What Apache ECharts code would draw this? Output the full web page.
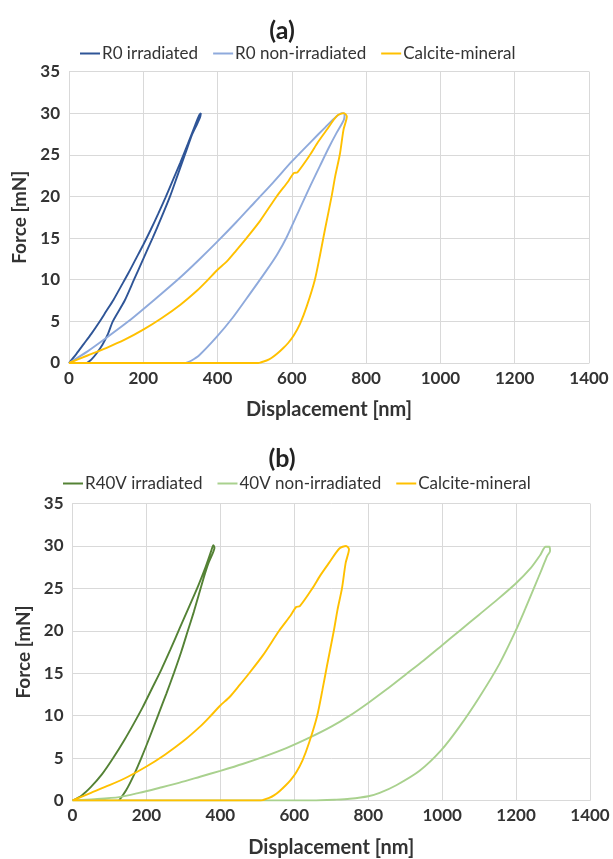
<!DOCTYPE html>
<html>
<head>
<meta charset="utf-8">
<script src="https://cdn.jsdelivr.net/npm/echarts@6/dist/echarts.min.js"></script>
<style>
html,body{margin:0;padding:0;background:#fff;}
#chart{width:613px;height:859px;}
</style>
</head>
<body>
<div id="chart"></div>
<script>
// ---- data: [displacement nm, force mN] ----
const r0Irradiated = [
  [0,0],[20,1.1],[40,2.3],[60,3.5],[80,4.8],[100,6.2],[120,7.6],[140,9.2],[160,10.8],[180,12.5],[200,14.2],[220,16.0],[240,17.9],[260,19.9],[280,22.0],[300,24.1],[320,26.3],[340,28.6],[350,29.7],[355,30],
  [353,29.5],[344,28.6],[332,27.5],[312,25],[292,22.5],[272,20],[250,17.6],[225,15],[200,12.5],[175,10],[150,7.5],[118,5],[105,3.5],[90,2.2],[75,1.2],[60,0.4],[48,0]
];
const r0NonIrradiated = [
  [0,0],[50,1.4],[100,3.0],[160,5.0],[230,7.6],[300,10.3],[350,12.4],[400,14.6],[450,16.9],[500,19.3],[550,21.7],[600,24.2],[650,26.5],[690,28.3],[715,29.4],[735,30],[742,29.9],
  [740,29.2],[720,27.6],[700,25.9],[676,23.7],[650,21.3],[622,18.6],[586,15.1],[560,13.0],[530,11.0],[487,8.3],[440,5.4],[397,3.1],[350,0.9],[330,0.3],[315,0]
];
const calciteMineral = [
  [0,0],[50,0.9],[100,1.8],[150,2.8],[200,4.0],[250,5.4],[300,7.0],[345,8.7],[370,9.8],[400,11.2],[425,12.2],[450,13.5],[478,15],[515,17.1],[559,20],[590,21.8],[605,22.8],[615,22.9],[649,25],[670,26.5],[694,28],[722,29.7],[740,30],
  [748,29.6],[739,28],[729,25],[717,22.5],[707,20],[689,16],[676,13],[662,10],[640,6.8],[622,4.7],[605,3.3],[590,2.4],[577,1.8],[560,1.1],[545,0.6],[532,0.3],[515,0.05],[510,0],[0,0]
];
const r40vIrradiated = [
  [0,0],[25,0.6],[50,1.6],[80,3.1],[110,5.0],[140,7.1],[165,9.0],[190,11.0],[215,13.2],[240,15.4],[265,17.8],[290,20.3],[315,22.8],[340,25.3],[360,27.5],[376,29.5],[381,30.1],
  [384,29.8],[378,29.0],[368,28.0],[356,26.4],[342,24.3],[328,22.2],[312,20],[294,17.5],[275,15.1],[254,12.6],[232,10.1],[210,7.6],[188,5.2],[165,2.9],[145,1.2],[126,0]
];
const v40NonIrradiated = [
  [0,0],[60,0.15],[126,0.4],[180,0.9],[236,1.5],[290,2.1],[345,2.8],[400,3.5],[460,4.3],[520,5.2],[580,6.2],[641,7.4],[700,8.7],[750,10.0],[800,11.5],[850,13.1],[900,14.8],[950,16.5],[1000,18.3],[1050,20.1],[1100,21.9],[1150,23.7],[1200,25.6],[1240,27.4],[1265,28.9],[1280,29.9],[1290,29.9],
  [1292,29.4],[1284,28.8],[1270,27.3],[1250,25.2],[1225,22.6],[1200,20.1],[1155,16.1],[1101,12.2],[1047,8.7],[997,5.9],[939,3.5],[876,1.8],[831,0.9],[800,0.5],[750,0.2],[714,0.1],[650,0],[0,0]
];
const legendA = ['R0 irradiated','R0 non-irradiated','Calcite-mineral'];
const legendB = ['R40V irradiated','40V non-irradiated','Calcite-mineral'];

const FONT = 'Lato';
const TXT = '#333333';
const GRIDC = '#d9d9d9';

function xAx(idx){
  return {
    type:'value', gridIndex:idx, min:0, max:1400, interval:200,
    name:'Displacement [nm]', nameLocation:'middle', nameGap:37,
    nameTextStyle:{fontFamily:FONT,fontWeight:'bold',fontSize:20,color:TXT},
    axisLine:{show:true,lineStyle:{color:GRIDC,width:1}},
    axisTick:{show:false},
    axisLabel:{fontFamily:FONT,fontWeight:'bold',fontSize:17,color:TXT,margin:7,formatter:function(v){return String(v);}},
    splitLine:{show:true,lineStyle:{color:GRIDC,width:1}}
  };
}
function yAx(idx,gap){
  return {
    type:'value', gridIndex:idx, min:0, max:35, interval:5,
    name:'Force [mN]', nameLocation:'middle', nameGap:gap,
    nameTextStyle:{fontFamily:FONT,fontWeight:'bold',fontSize:19,color:TXT},
    axisLine:{show:true,lineStyle:{color:GRIDC,width:1}},
    axisTick:{show:false},
    axisLabel:{fontFamily:FONT,fontWeight:'bold',fontSize:17,color:TXT,margin:9},
    splitLine:{show:true,lineStyle:{color:GRIDC,width:1}}
  };
}
function ser(name,data,color,gi){
  return {type:'line',name:name,data:data,xAxisIndex:gi,yAxisIndex:gi,showSymbol:false,symbol:'none',
    smooth:0.25,lineStyle:{color:color,width:1.9},itemStyle:{color:color}};
}
const legendBase = {icon:'rect',itemWidth:20,itemHeight:2,itemGap:15,
  textStyle:{fontFamily:FONT,fontSize:17,color:TXT,padding:[0,0,0,-3]}};

const chart = echarts.init(document.getElementById('chart'),null,{renderer:'canvas'});
chart.setOption({
  animation:false,
  backgroundColor:'#fff',
  title:[
    {text:'(a)',left:277,top:13,textAlign:'center',textStyle:{fontFamily:FONT,fontWeight:'bold',fontSize:25,color:'#222'}},
    {text:'(b)',left:277,top:441,textAlign:'center',textStyle:{fontFamily:FONT,fontWeight:'bold',fontSize:25,color:'#222'}}
  ],
  legend:[
    Object.assign({},legendBase,{data:legendA,left:75,top:40}),
    Object.assign({},legendBase,{data:legendB,left:58,top:470})
  ],
  grid:[
    {left:69,right:24,top:71.5,height:291.5},
    {left:72.5,right:23,top:503.5,height:297}
  ],
  xAxis:[xAx(0),xAx(1)],
  yAxis:[yAx(0,34.5),yAx(1,38)],
  series:[
    ser('R0 irradiated',r0Irradiated,'#2F5597',0),
    ser('R0 non-irradiated',r0NonIrradiated,'#8FAADC',0),
    ser('Calcite-mineral',calciteMineral,'#FFC000',0),
    ser('R40V irradiated',r40vIrradiated,'#548235',1),
    ser('40V non-irradiated',v40NonIrradiated,'#A9D18E',1),
    ser('Calcite-mineral',calciteMineral,'#FFC000',1)
  ]
});
</script>
</body>
</html>
